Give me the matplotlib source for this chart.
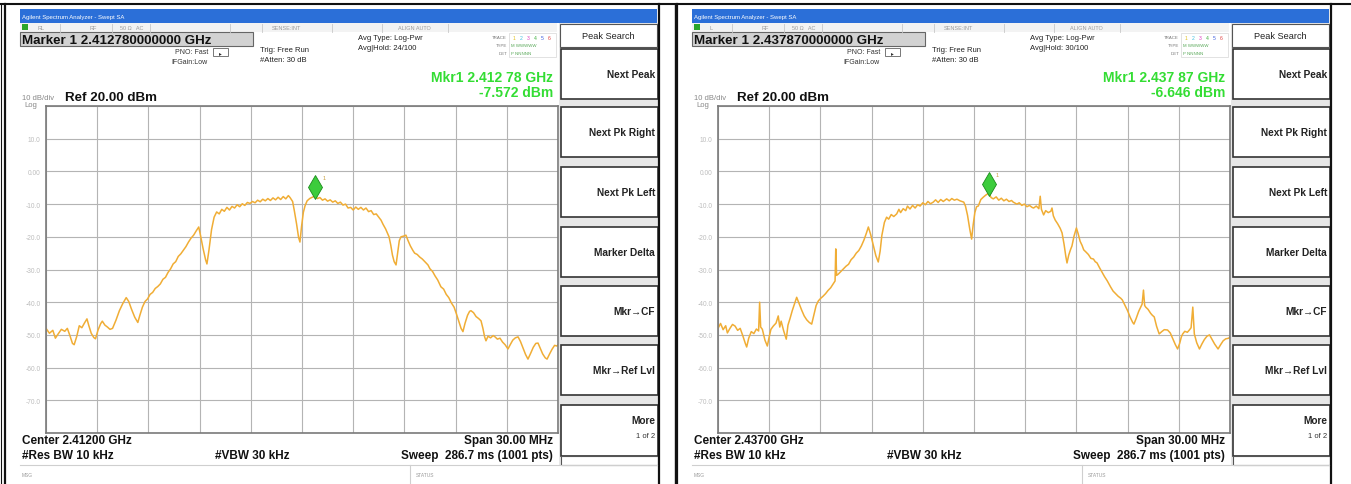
"""
Two Agilent swept-SA screenshots (2.412 GHz and 2.437 GHz channels) side by side,
redrawn as a figure: instrument chrome in pixel coords, trace in a data axes.
"""

import numpy as np
import matplotlib.pyplot as plt
from matplotlib.patches import Rectangle

plt.rcParams["font.family"] = ["Liberation Sans", "DejaVu Sans"]

W, H = 1351, 485
PANEL_DX = [0, 672]

CENTER_GHZ = [2.412, 2.437]
MARKER_GHZ = [2.41278, 2.43787]
MARKER_DBM = [-7.572, -6.646]
AVG_HOLD = ["24/100", "30/100"]
STATUS_FLAG = ["RL", "L"]

REF_DBM = 20
DB_PER_DIV = 10
SPAN_MHZ = 30
Y_LABELS = ["", "-70.0", "-60.0", "-50.0", "-40.0", "-30.0", "-20.0",
            "-10.0", "0.00", "10.0", ""]
SOFTKEYS = ["Next Peak", "Next Pk Right", "Next Pk Left", "Marker Delta",
            "Mkr\u2192CF", "Mkr\u2192Ref Lvl"]

# trace: offset from centre (MHz) and level (dBm)
LEFT_OFFSET_MHZ = [
    -15.0, -14.8, -14.6, -14.45, -14.3, -14.1, -13.9, -13.75, -13.6, -13.45,
    -13.35, -13.2, -13.05, -12.9, -12.75, -12.6, -12.5, -12.35, -12.2, -12.1,
    -11.95, -11.8, -11.7, -11.55, -11.4, -11.25, -11.1, -10.9, -10.7, -10.5,
    -10.3, -10.15, -10.0, -9.8, -9.62, -9.5, -9.35, -9.2, -9.05, -8.9,
    -8.75, -8.6, -8.45, -8.3, -8.15, -8.0, -7.85, -7.7, -7.55, -7.4,
    -7.25, -7.1, -6.95, -6.8, -6.65, -6.5, -6.35, -6.2, -6.05, -5.95,
    -5.8, -5.65, -5.57, -5.45, -5.3, -5.15, -5.0, -4.85, -4.7, -4.55,
    -4.4, -4.25, -4.1, -3.95, -3.8, -3.65, -3.5, -3.35, -3.2, -3.05,
    -2.9, -2.75, -2.6, -2.45, -2.3, -2.15, -2.0, -1.85, -1.7, -1.55,
    -1.4, -1.25, -1.1, -0.95, -0.8, -0.7, -0.55, -0.45, -0.32, -0.2,
    -0.12, -0.03, 0.08, 0.18, 0.3, 0.45, 0.6, 0.78, 0.9, 1.05,
    1.2, 1.35, 1.5, 1.65, 1.8, 1.95, 2.1, 2.25, 2.4, 2.55,
    2.7, 2.85, 3.0, 3.15, 3.3, 3.45, 3.6, 3.75, 3.9, 4.05,
    4.2, 4.35, 4.5, 4.63, 4.75, 4.9, 5.0, 5.1, 5.2, 5.3,
    5.4, 5.51, 5.6, 5.7, 5.8, 5.95, 6.09, 6.2, 6.35, 6.5,
    6.6, 6.75, 6.9, 7.05, 7.2, 7.38, 7.5, 7.65, 7.8, 7.95,
    8.14, 8.3, 8.45, 8.6, 8.75, 8.91, 9.05, 9.2, 9.32, 9.43,
    9.55, 9.7, 9.82, 9.9, 10.05, 10.2, 10.35, 10.49, 10.6, 10.7,
    10.78, 10.9, 11.05, 11.2, 11.31, 11.45, 11.6, 11.75, 11.9, 12.07,
    12.2, 12.35, 12.5, 12.66, 12.8, 12.95, 13.1, 13.24, 13.4, 13.55,
    13.7, 13.83, 13.95, 14.1, 14.25, 14.36, 14.5, 14.65, 14.8, 14.94, 15.0]
LEFT_LEVEL_DBM = [
    -48.0, -49.5, -48.6, -51.0, -49.8, -48.3, -48.9, -48.0, -50.2, -52.6,
    -53.0, -50.5, -47.2, -47.8, -46.4, -45.1, -47.0, -49.5, -50.8, -51.2,
    -48.5, -46.6, -45.8, -47.0, -47.6, -48.3, -48.0, -45.5, -42.6, -40.4,
    -38.6, -39.8, -42.0, -44.6, -46.2, -44.0, -41.5, -39.8, -39.0, -37.6,
    -37.0, -35.8, -35.2, -34.4, -33.0, -32.4, -30.9, -29.8, -28.3, -27.6,
    -26.0, -25.2, -24.1, -23.0, -21.6, -20.4, -19.5, -18.2, -17.0, -19.5,
    -23.5, -27.0, -28.3, -24.0, -17.8, -14.0, -12.4, -13.0, -11.6, -12.2,
    -11.0, -11.8, -10.7, -11.2, -10.2, -10.8, -9.9, -10.4, -9.5, -9.8,
    -9.2, -9.6, -8.8, -9.3, -8.5, -9.0, -8.3, -8.9, -8.1, -8.7,
    -7.9, -8.6, -7.7, -8.4, -7.4, -8.0, -9.2, -12.0, -16.0, -20.2,
    -21.6, -17.0, -12.5, -10.5, -9.0, -8.3, -7.9, -7.57, -8.3, -8.0,
    -8.8, -8.4, -9.1, -8.7, -9.4, -9.0, -9.8, -9.4, -10.3, -10.0,
    -11.2, -11.0, -11.8, -10.9, -11.6, -11.0, -11.8, -11.2, -12.3, -12.0,
    -13.2, -13.0, -14.0, -14.9, -16.2, -17.6, -18.8, -20.0, -22.5, -25.6,
    -27.6, -28.6, -25.0, -21.2, -20.0, -19.8, -19.5, -21.0, -22.8, -24.2,
    -25.0, -25.4, -26.2, -26.8, -27.6, -28.6, -29.8, -30.6, -32.0, -33.2,
    -35.3, -36.0, -37.6, -38.6, -40.2, -41.5, -43.6, -46.0, -48.0, -49.0,
    -46.5, -44.0, -42.8, -42.6, -43.2, -44.4, -45.0, -45.7, -48.0, -50.6,
    -51.8, -50.4, -50.9, -50.2, -50.6, -51.3, -51.0, -52.2, -53.0, -54.3,
    -53.0, -51.6, -50.9, -50.6, -52.0, -54.0, -56.0, -57.4, -55.6, -53.8,
    -52.6, -52.5, -54.0, -55.8, -57.0, -57.4, -55.9, -54.4, -53.2, -53.4, -53.0]

RIGHT_OFFSET_MHZ = [
    -15.0, -14.85, -14.7, -14.55, -14.45, -14.3, -14.15, -14.0, -13.85, -13.7,
    -13.55, -13.4, -13.32, -13.2, -13.05, -12.9, -12.75, -12.62, -12.56, -12.5,
    -12.4, -12.25, -12.11, -12.0, -11.9, -11.76, -11.6, -11.47, -11.38, -11.3,
    -11.15, -11.0, -10.9, -10.78, -10.65, -10.5, -10.39, -10.25, -10.1, -9.95,
    -9.8, -9.65, -9.51, -9.38, -9.25, -9.12, -8.98, -8.85, -8.7, -8.55,
    -8.4, -8.25, -8.14, -8.1, -8.05, -7.95, -7.8, -7.65, -7.5, -7.35,
    -7.2, -7.05, -6.9, -6.75, -6.6, -6.45, -6.3, -6.19, -6.05, -5.9,
    -5.75, -5.61, -5.5, -5.4, -5.25, -5.12, -5.0, -4.85, -4.7, -4.53,
    -4.4, -4.3, -4.15, -4.0, -3.9, -3.75, -3.6, -3.45, -3.3, -3.16,
    -3.0, -2.85, -2.7, -2.55, -2.39, -2.25, -2.1, -1.95, -1.8, -1.6,
    -1.45, -1.3, -1.15, -1.0, -0.82, -0.6, -0.5, -0.38, -0.25, -0.14,
    -0.05, 0.05, 0.15, 0.25, 0.4, 0.54, 0.7, 0.87, 1.0, 1.13,
    1.3, 1.45, 1.6, 1.75, 1.9, 2.05, 2.2, 2.3, 2.51, 2.65,
    2.8, 2.95, 3.1, 3.25, 3.4, 3.49, 3.65, 3.8, 3.88, 3.95,
    4.08, 4.2, 4.35, 4.5, 4.57, 4.65, 4.76, 4.9, 5.05, 5.16,
    5.28, 5.38, 5.45, 5.55, 5.65, 5.74, 5.86, 6.0, 6.1, 6.22,
    6.33, 6.43, 6.55, 6.7, 6.85, 7.0, 7.1, 7.21, 7.35, 7.5,
    7.65, 7.8, 8.0, 8.15, 8.3, 8.45, 8.6, 8.69, 8.85, 9.0,
    9.15, 9.3, 9.37, 9.5, 9.65, 9.77, 9.85, 9.93, 10.0, 10.06,
    10.2, 10.35, 10.45, 10.56, 10.7, 10.85, 11.0, 11.15, 11.34, 11.5,
    11.65, 11.8, 11.93, 12.05, 12.15, 12.23, 12.35, 12.5, 12.62, 12.72,
    12.82, 12.88, 12.91, 13.05, 13.21, 13.35, 13.5, 13.65, 13.8, 13.95,
    14.1, 14.3, 14.45, 14.6, 14.75, 14.94, 15.0]
RIGHT_LEVEL_DBM = [
    -48.0, -46.5, -48.4, -47.2, -49.4, -48.0, -46.8, -47.3, -48.6, -48.0,
    -50.2, -52.6, -53.7, -51.0, -49.0, -49.6, -48.2, -48.8, -40.0, -47.6,
    -48.3, -51.6, -53.4, -50.6, -48.3, -47.3, -46.4, -44.2, -47.6, -45.8,
    -48.8, -51.3, -47.0, -45.0, -42.6, -40.2, -38.5, -40.4, -42.4, -44.2,
    -45.4, -46.2, -46.7, -43.8, -41.0, -39.6, -38.8, -38.2, -37.4, -36.4,
    -35.6, -34.4, -33.5, -23.7, -31.8, -31.4, -30.6, -29.8, -29.0, -28.4,
    -27.0, -26.2, -25.0, -24.2, -22.8, -21.0, -18.8, -17.0, -19.4, -22.6,
    -25.8, -27.7, -24.4, -19.6, -15.6, -14.0, -14.6, -13.2, -13.8, -13.0,
    -11.6, -12.6, -11.4, -12.0, -10.6, -11.5, -10.4, -11.2, -10.2, -10.6,
    -9.6, -10.2, -9.2, -9.9, -9.4, -8.7, -9.5, -8.6, -9.2, -8.4,
    -9.0, -8.3, -8.8, -8.5, -9.0, -9.4, -10.6, -13.4, -17.6, -20.7,
    -16.4, -12.6, -10.8, -10.6, -8.6, -7.9, -7.2, -6.65, -8.0, -8.4,
    -7.8, -8.8, -8.2, -9.0, -8.5, -9.2, -8.9, -9.4, -10.0, -9.6,
    -10.4, -10.0, -10.8, -10.4, -11.0, -11.2, -10.6, -11.4, -7.6, -11.6,
    -13.3, -12.0, -12.6, -12.2, -11.2, -13.6, -14.9, -16.0, -17.4, -18.8,
    -22.4, -26.0, -28.0, -25.6, -24.0, -22.8, -19.8, -17.3, -19.0, -21.4,
    -22.6, -24.0, -24.6, -25.4, -26.6, -26.8, -27.6, -28.0, -29.4, -30.8,
    -32.2, -33.4, -35.3, -36.6, -37.4, -38.2, -38.8, -39.3, -41.0, -42.6,
    -44.6, -46.2, -46.7, -45.0, -42.8, -41.5, -40.6, -36.3, -41.0, -41.5,
    -42.2, -43.4, -44.0, -44.5, -47.4, -49.7, -49.0, -48.4, -48.5, -49.4,
    -51.2, -53.0, -54.3, -52.6, -50.6, -49.7, -48.9, -49.2, -48.5, -47.8,
    -41.5, -47.2, -49.7, -52.4, -54.3, -52.8, -51.4, -50.4, -50.0, -51.4,
    -52.8, -54.3, -53.0, -51.8, -51.2, -51.0, -50.4]

OFFSETS = [LEFT_OFFSET_MHZ, RIGHT_OFFSET_MHZ]
LEVELS = [LEFT_LEVEL_DBM, RIGHT_LEVEL_DBM]

TRACE_COLOR = "#f0ad35"
GREEN = "#33dd33"
GRAY_TXT = "#9a9a9a"


def rect(ax, x0, y0, x1, y1, **kw):
    ax.add_patch(Rectangle((x0, y0), x1 - x0, y1 - y0, **kw))


def txt(ax, x, y, s, size, **kw):
    kw.setdefault("va", "center")
    ax.text(x, y, s, fontsize=size, **kw)


def mkr_freq(ghz):
    s = f"{ghz:.5f}"
    return s[:5] + " " + s[5:]


fig = plt.figure(figsize=(W / 100, H / 100), dpi=100)
ax0 = fig.add_axes([0, 0, 1, 1])
ax0.set_xlim(0, W)
ax0.set_ylim(H, 0)
ax0.axis("off")

# table borders
ax0.plot([0, W], [5, 5], color="#111", lw=1.5)
for x, lw in [(1, 0.8), (5, 1.6), (659, 1.6), (674.5, 1.0), (677, 1.6), (1331, 1.6)]:
    ax0.plot([x, x], [5, H], color="#111", lw=lw)

for i, dx in enumerate(PANEL_DX):
    x0 = 20 + dx
    # title bar
    rect(ax0, x0, 10, 657 + dx, 24, color="#2b6fd8", lw=0)
    txt(ax0, x0 + 2, 17, "Agilent Spectrum Analyzer - Swept SA", 4.3, color="white")

    # status row
    rect(ax0, x0, 24, 557 + dx, 33, color="#f3f3f3", lw=0)
    rect(ax0, x0 + 2, 25, x0 + 8, 31, color="#2aa52a", lw=0)
    for sx in [60, 112, 150, 230, 262, 332, 382, 448]:
        ax0.plot([sx + dx, sx + dx], [24.5, 32.5], color="#c8c8c8", lw=0.6)
    txt(ax0, 38 + dx, 28.5, STATUS_FLAG[i], 4, color=GRAY_TXT)
    txt(ax0, 90 + dx, 28.5, "RF", 4, color=GRAY_TXT)
    txt(ax0, 120 + dx, 28.5, "50 \u03a9   AC", 4, color=GRAY_TXT)
    txt(ax0, 272 + dx, 28.5, "SENSE:INT", 4, color=GRAY_TXT)
    txt(ax0, 398 + dx, 28.5, "ALIGN AUTO", 4, color=GRAY_TXT)

    # marker frequency box
    rect(ax0, x0, 33, 253 + dx, 47, facecolor="#d2d2d2", edgecolor="#666", lw=0.8)
    txt(ax0, x0 + 2, 40.5, f"Marker 1 {MARKER_GHZ[i]:.12f} GHz", 9.6, weight="bold",
        color="#111")

    txt(ax0, 208 + dx, 53, "PNO: Fast", 5, ha="right", color="#333")
    txt(ax0, 208 + dx, 62, "IFGain:Low", 5, ha="right", color="#333")
    rect(ax0, 213 + dx, 49, 228 + dx, 57, facecolor="white", edgecolor="#777", lw=0.7)
    txt(ax0, 220.5 + dx, 54, "\u25b8", 4, ha="center", color="#333")
    txt(ax0, 260 + dx, 50, "Trig: Free Run", 5.5, color="#222")
    txt(ax0, 260 + dx, 61, "#Atten: 30 dB", 5.5, color="#222")
    txt(ax0, 358 + dx, 38, "Avg Type: Log-Pwr", 5.5, color="#222")
    txt(ax0, 358 + dx, 48, f"Avg|Hold: {AVG_HOLD[i]}", 5.5, color="#222")

    # trace table block
    rect(ax0, 509 + dx, 34, 556 + dx, 58, facecolor="white", edgecolor="#ddd", lw=0.6)
    for yy, lab in [(38, "TRACE"), (46, "TYPE"), (54, "DET")]:
        txt(ax0, 507 + dx, yy, lab, 3.2, ha="right", color="#777")
    for k, c in enumerate(["#e0c020", "#40c0e0", "#e040c0", "#40b040", "#4060e0", "#e04040"]):
        txt(ax0, 514 + dx + k * 7, 38, str(k + 1), 3.6, ha="center", color=c)
    txt(ax0, 511 + dx, 46, "M WWWWW", 3.2, color="#58a858")
    txt(ax0, 511 + dx, 54, "P NNNNN", 3.2, color="#58a858")

    # marker readout
    txt(ax0, 553 + dx, 78, f"Mkr1 {mkr_freq(MARKER_GHZ[i])} GHz", 10, ha="right",
        weight="bold", color=GREEN)
    txt(ax0, 553 + dx, 93, f"{MARKER_DBM[i]:.3f} dBm", 10, ha="right", weight="bold",
        color=GREEN)

    txt(ax0, x0 + 2, 98, f"{DB_PER_DIV} dB/div", 5.5, color="#888")
    txt(ax0, x0 + 4, 105.5, "Log", 5.5, color="#888")
    txt(ax0, 65 + dx, 98, f"Ref {REF_DBM:.2f} dBm", 9.6, weight="bold", color="#111")

    # bottom annotations
    txt(ax0, x0 + 2, 441, f"Center {CENTER_GHZ[i]:.5f} GHz", 8.5, weight="bold", color="#111")
    txt(ax0, x0 + 2, 456, "#Res BW 10 kHz", 8.5, weight="bold", color="#111")
    txt(ax0, 215 + dx, 456, "#VBW 30 kHz", 8.5, weight="bold", color="#111")
    txt(ax0, 553 + dx, 441, f"Span {SPAN_MHZ:.2f} MHz", 8.5, ha="right", weight="bold",
        color="#111")
    txt(ax0, 553 + dx, 456, "Sweep  286.7 ms (1001 pts)", 8.5, ha="right", weight="bold",
        color="#111")

    # message row
    ax0.plot([x0, 657 + dx], [466, 466], color="#cfcfcf", lw=0.8)
    ax0.plot([410 + dx, 410 + dx], [466, H], color="#cfcfcf", lw=0.8)
    txt(ax0, x0 + 2, 476, "MSG", 3.5, color="#999")
    txt(ax0, 416 + dx, 476, "STATUS", 3.5, color="#999")

    # softkey column
    rect(ax0, 559 + dx, 24, 658 + dx, 466, color="#e7e7e7", lw=0)
    rect(ax0, 560 + dx, 25, 657 + dx, 48, facecolor="white", edgecolor="#555", lw=0.8)
    txt(ax0, 608 + dx, 36.5, "Peak Search", 6.6, ha="center", color="#222")
    tops = [50, 108, 168, 228, 287, 346]
    for top, key in zip(tops, SOFTKEYS):
        rect(ax0, 561 + dx, top, 658 + dx, top + 50, facecolor="white",
             edgecolor="#333", lw=1.2)
        txt(ax0, 655 + dx, top + 25, key, 7.3, ha="right", weight="bold", color="#222")
    rect(ax0, 561 + dx, 406, 658 + dx, 457, facecolor="white", edgecolor="#333", lw=1.2)
    txt(ax0, 655 + dx, 421, "More", 7.3, ha="right", weight="bold", color="#222")
    txt(ax0, 655 + dx, 437, "1 of 2", 5.5, ha="right", color="#333")
    rect(ax0, 561 + dx, 457, 658 + dx, 466, facecolor="white", edgecolor="#555", lw=0.8)

    # graticule + trace
    tax = fig.add_axes([(46 + dx) / W, (H - 434) / H, 512 / W, 327 / H])
    tax.set_xlim(-SPAN_MHZ / 2, SPAN_MHZ / 2)
    tax.set_ylim(REF_DBM - 10 * DB_PER_DIV, REF_DBM)
    tax.set_xticks(np.linspace(-SPAN_MHZ / 2, SPAN_MHZ / 2, 11))
    tax.set_yticks(np.arange(REF_DBM - 10 * DB_PER_DIV, REF_DBM + 1, DB_PER_DIV))
    tax.set_yticklabels(Y_LABELS)
    tax.tick_params(length=0, labelbottom=False, labelsize=4.8, labelcolor="#bdbdbd", pad=4)
    tax.grid(True, color="#b4b4b4", lw=0.8)
    for sp in tax.spines.values():
        sp.set_color("#7a7a7a")
        sp.set_linewidth(1.2)
    tax.plot(OFFSETS[i], LEVELS[i], color=TRACE_COLOR, lw=1.1)

    mkr_off = (MARKER_GHZ[i] - CENTER_GHZ[i]) * 1000
    tax.plot(mkr_off, MARKER_DBM[i] + 2.7, marker="d", ms=12, mfc="#3ccc3c",
             mec="#1a8a1a", mew=0.6)
    tax.text(mkr_off + 0.4, MARKER_DBM[i] + 5.2, "1", fontsize=4, color="#c8a040")

fig.savefig("out.png", dpi=100)
